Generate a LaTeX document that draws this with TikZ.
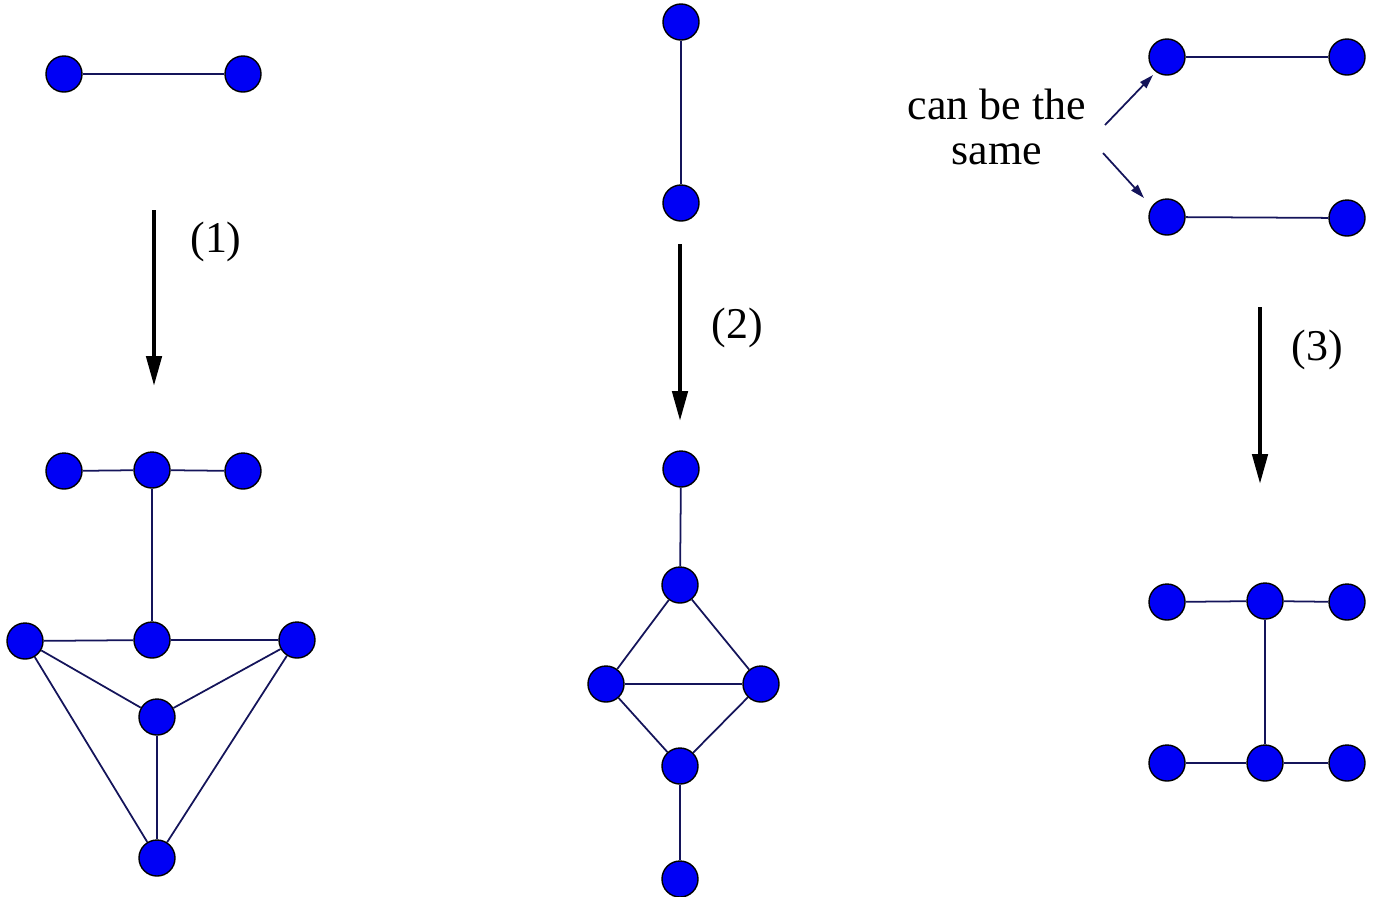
\documentclass[tikz,border=0pt]{standalone}
\usepackage{fontspec}
\setmainfont{Liberation Serif}
\usetikzlibrary{arrows.meta,positioning,calc}
\definecolor{dotblue}{RGB}{0,0,245}
\definecolor{edgenavy}{RGB}{20,20,90}

\begin{document}
\begin{tikzpicture}[x=0.01cm, y=-0.01cm,
  dot/.style={circle, draw=black, thin, fill=dotblue, minimum size=3.6mm, inner sep=0pt},
  edge/.style={draw=edgenavy, line width=0.5pt},
  bigarr/.style={-{Triangle[length=8.5pt, width=4.3pt]}, line width=1.2pt, black},
  smallarr/.style={-{Triangle[length=4pt, width=2.4pt]}, draw=edgenavy, line width=0.5pt},
  lbl/.style={font=\fontsize{12.5}{13}\selectfont, align=center, inner sep=0pt}
]
\useasboundingbox (0,0) rectangle (1373,896);

% panel 1
\node[dot] (a1) at (64,74) {};
\node[dot] (a2) at (243,74) {};
\draw[edge] (a1) -- (a2);

\coordinate (p1s) at (154,210);
\coordinate (p1e) at (154,386);
\draw[bigarr] (p1s) -- (p1e);
\node[lbl] (l1) at (216,242) {(1)};

\node[dot] (b1) at (64,471) {};
\node[dot] (b2) at (152,470) {};
\node[dot] (b3) at (243,471) {};
\node[dot] (b4) at (152,640) {};
\node[dot] (c1) at (25,641) {};
\node[dot] (c3) at (297,640) {};
\node[dot] (c5) at (157,717) {};
\node[dot] (c6) at (157,858) {};
\draw[edge] (b1) -- (b2) -- (b3);
\draw[edge] (b2) -- (b4);
\draw[edge] (c1) -- (b4) -- (c3);
\draw[edge] (c1) -- (c5) -- (c3);
\draw[edge] (c5) -- (c6);
\draw[edge] (c1) -- (c6) -- (c3);

% panel 2
\node[dot] (d1) at (681,22) {};
\node[dot] (d2) at (681,203) {};
\draw[edge] (d1) -- (d2);

\coordinate (p2s) at (680,244);
\coordinate (p2e) at (680,421);
\draw[bigarr] (p2s) -- (p2e);
\node[lbl] (l2) at (737,328) {(2)};

\node[dot] (e1) at (681,469) {};
\node[dot] (e2) at (680,585) {};
\node[dot] (e3) at (606,684) {};
\node[dot] (e4) at (761,684) {};
\node[dot] (e5) at (680,766) {};
\node[dot] (e6) at (680,879) {};
\draw[edge] (e1) -- (e2);
\draw[edge] (e2) -- (e3) -- (e5) -- (e4) -- (e2);
\draw[edge] (e3) -- (e4);
\draw[edge] (e5) -- (e6);

% panel 3
\node[dot] (f1) at (1167,57) {};
\node[dot] (f2) at (1347,57) {};
\node[dot] (g1) at (1167,217) {};
\node[dot] (g2) at (1347,218) {};
\draw[edge] (f1) -- (f2);
\draw[edge] (g1) -- (g2);

\node[lbl] (same) at (997,127) {can be the\\same};
\coordinate (s1) at (1105,125);
\coordinate (s2) at (1103,153);
\draw[smallarr] (s1) -- (1153,75);
\draw[smallarr] (s2) -- (1144,198);

\coordinate (p3s) at (1260,307);
\coordinate (p3e) at (1260,484);
\draw[bigarr] (p3s) -- (p3e);
\node[lbl] (l3) at (1317,350) {(3)};

\node[dot] (h1) at (1167,602) {};
\node[dot] (h2) at (1265,601) {};
\node[dot] (h3) at (1347,602) {};
\node[dot] (k1) at (1167,763) {};
\node[dot] (k2) at (1265,763) {};
\node[dot] (k3) at (1347,763) {};
\draw[edge] (h1) -- (h2) -- (h3);
\draw[edge] (k1) -- (k2) -- (k3);
\draw[edge] (h2) -- (k2);
\end{tikzpicture}
\end{document}
